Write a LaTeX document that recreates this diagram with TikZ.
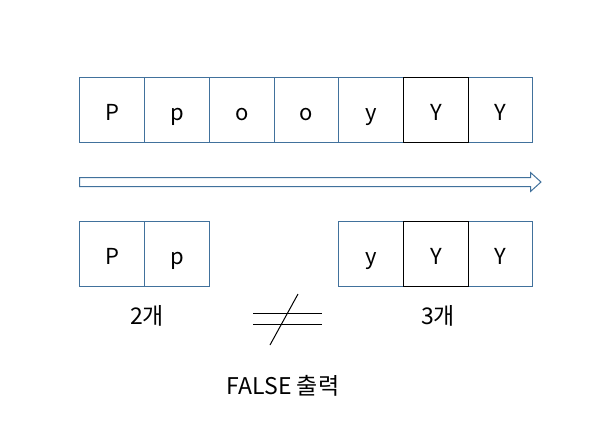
\documentclass[tikz,border=0pt]{standalone}
\usepackage{fontspec}
\setmainfont{Noto Sans CJK KR}
\definecolor{bleu}{HTML}{41719C}
\begin{document}
\begin{tikzpicture}[x=1pt,y=-1pt,line width=1pt]
    \tikzset{case/.style={draw=bleu, minimum width=65pt, minimum height=65pt, inner sep=0pt, text height=20pt, text depth=0pt, font=\fontsize{22}{26}\selectfont}}
    \tikzset{casenoire/.style={case, draw=black}}
    \tikzset{etroite/.style={minimum width=64pt}}
    \tikzset{etiquette/.style={inner sep=0pt, font=\fontsize{23}{27}\selectfont}}
    \useasboundingbox (0,0) rectangle (597,437);
    % ligne du haut
    \node[case] (t1) at (112, 110) {P};
    \node[case] (t2) at (177, 110) {p};
    \node[case] (t3) at (242, 110) {o};
    \node[case, etroite] (t4) at (306.5, 110) {o};
    \node[case] (t5) at (371, 110) {y};
    \node[case, etroite] (t7) at (500.5, 110) {Y};
    \node[casenoire] (t6) at (436, 110) {Y};
    % fleche
    \draw[bleu, fill=white] (79.5,177.5) -- (530.5,177.5) -- (530.5,172.5) -- (541,182)
      -- (530.5,191.5) -- (530.5,186.5) -- (79.5,186.5) -- cycle;
    % ligne du bas
    \node[case] (b1) at (112, 254) {P};
    \node[case] (b2) at (177, 254) {p};
    \node[case] (b3) at (371, 254) {y};
    \node[case, etroite] (b5) at (500.5, 254) {Y};
    \node[casenoire] (b4) at (436, 254) {Y};
    \node[etiquette] (deux) at (147, 316) {2개};
    \node[etiquette] (trois) at (438, 316) {3개};
    % different
    \draw[black] (253,313.5) -- (322,313.5);
    \draw[black] (253,324.5) -- (322,324.5);
    \draw[black] (298,294) -- (270,345);
    \node[etiquette] (faux) at (283, 386) {FALSE 출력};
  \end{tikzpicture}
\end{document}
